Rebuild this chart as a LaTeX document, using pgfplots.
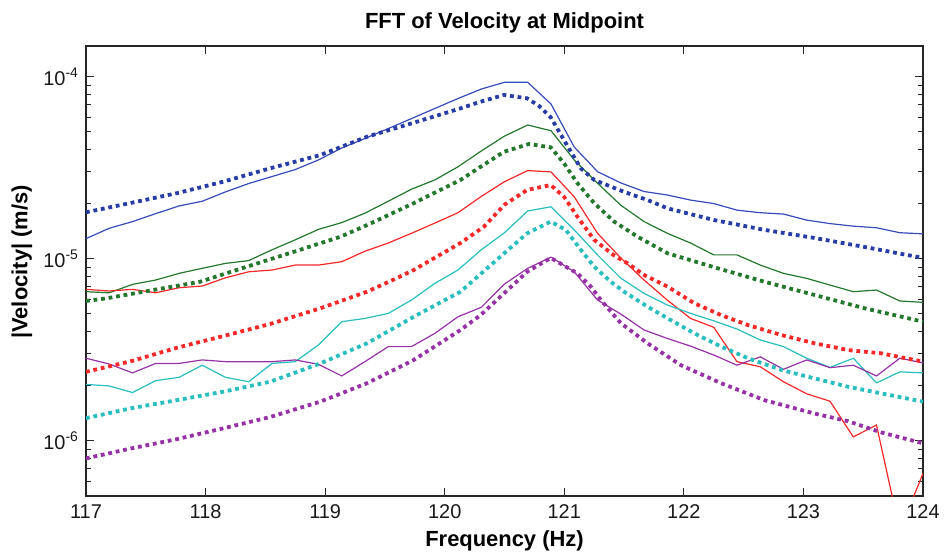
\documentclass[border=0pt]{standalone}
\usepackage{fontspec}
\setmainfont{Liberation Sans}
\usepackage{pgfplots}
\usepackage{pgfplotstable}
\pgfplotsset{compat=1.18}
\definecolor{cblue}{RGB}{55,75,185}
\definecolor{cblued}{RGB}{40,60,165}
\definecolor{cgreen}{RGB}{35,120,45}
\definecolor{cred}{RGB}{245,40,40}
\definecolor{ccyan}{RGB}{40,190,190}
\definecolor{cpurple}{RGB}{150,50,165}
\tikzset{dotline/.style={line width=1.9bp, dash pattern=on 1.9bp off 1.9bp}}

\pgfplotstableread{
f blue green red cyan purple
117.000 1.29e-5 6.59e-6 6.79e-6 2.04e-6 2.84e-6
117.194 1.47e-5 6.50e-6 6.65e-6 2.00e-6 2.64e-6
117.389 1.60e-5 7.23e-6 6.79e-6 1.84e-6 2.36e-6
117.583 1.77e-5 7.64e-6 6.50e-6 2.14e-6 2.66e-6
117.778 1.95e-5 8.31e-6 6.93e-6 2.23e-6 2.66e-6
117.972 2.07e-5 8.86e-6 7.08e-6 2.60e-6 2.78e-6
118.167 2.33e-5 9.43e-6 7.86e-6 2.23e-6 2.72e-6
118.361 2.59e-5 9.77e-6 8.48e-6 2.11e-6 2.72e-6
118.556 2.83e-5 1.12e-5 8.67e-6 2.66e-6 2.72e-6
118.750 3.09e-5 1.27e-5 9.23e-6 2.72e-6 2.78e-6
118.944 3.49e-5 1.45e-5 9.23e-6 3.36e-6 2.63e-6
119.139 4.06e-5 1.58e-5 9.63e-6 4.51e-6 2.27e-6
119.333 4.58e-5 1.78e-5 1.10e-5 4.70e-6 2.72e-6
119.528 5.19e-5 2.07e-5 1.22e-5 5.01e-6 3.29e-6
119.722 5.89e-5 2.41e-5 1.38e-5 5.93e-6 3.29e-6
119.917 6.69e-5 2.71e-5 1.57e-5 7.32e-6 3.89e-6
120.111 7.59e-5 3.20e-5 1.79e-5 8.67e-6 4.80e-6
120.306 8.56e-5 3.91e-5 2.20e-5 1.12e-5 5.41e-6
120.500 9.32e-5 4.72e-5 2.65e-5 1.39e-5 7.26e-6
120.694 9.32e-5 5.43e-5 3.05e-5 1.83e-5 8.86e-6
120.889 7.08e-5 5.05e-5 3.00e-5 1.93e-5 1.02e-5
121.083 4.11e-5 3.49e-5 2.19e-5 1.44e-5 8.48e-6
121.278 3.01e-5 2.60e-5 1.38e-5 1.05e-5 5.93e-6
121.472 2.61e-5 1.97e-5 1.01e-5 7.83e-6 4.97e-6
121.667 2.34e-5 1.60e-5 7.64e-6 6.45e-6 4.06e-6
121.861 2.24e-5 1.38e-5 5.93e-6 5.57e-6 3.65e-6
122.056 2.10e-5 1.22e-5 4.70e-6 5.01e-6 3.31e-6
122.250 2.01e-5 1.05e-5 4.20e-6 4.56e-6 2.96e-6
122.444 1.85e-5 1.05e-5 2.72e-6 4.11e-6 2.60e-6
122.639 1.79e-5 9.23e-6 2.55e-6 3.58e-6 2.89e-6
122.833 1.76e-5 8.31e-6 2.11e-6 3.29e-6 2.47e-6
123.028 1.63e-5 7.80e-6 1.81e-6 2.84e-6 2.78e-6
123.222 1.56e-5 7.17e-6 1.65e-6 2.53e-6 2.52e-6
123.417 1.51e-5 6.59e-6 1.05e-6 2.84e-6 2.60e-6
123.611 1.48e-5 6.73e-6 1.22e-6 2.08e-6 2.27e-6
123.806 1.39e-5 5.86e-6 3.2e-7 2.39e-6 2.84e-6
124.000 1.37e-5 5.76e-6 6.62e-7 2.36e-6 2.68e-6
}\solid

\pgfplotstableread{
f v
117.000 1.80e-5
117.366 2.02e-5
117.758 2.29e-5
118.148 2.65e-5
118.540 3.14e-5
118.959 3.71e-5
119.350 4.68e-5
119.741 5.59e-5
120.132 6.70e-5
120.300 7.29e-5
120.495 7.94e-5
120.690 7.61e-5
120.790 6.90e-5
120.887 5.98e-5
121.013 4.31e-5
121.138 3.14e-5
121.250 2.71e-5
121.500 2.33e-5
121.697 2.10e-5
121.865 1.89e-5
122.256 1.63e-5
122.675 1.44e-5
123.094 1.30e-5
123.513 1.16e-5
124.000 1.01e-5
}\bluedot

\pgfplotstableread{
f v
117.000 5.86e-6
117.171 6.06e-6
117.562 6.73e-6
117.953 7.47e-6
118.345 9.04e-6
118.735 1.09e-5
119.127 1.32e-5
119.350 1.53e-5
119.741 2.02e-5
120.132 2.71e-5
120.300 3.20e-5
120.495 3.87e-5
120.705 4.27e-5
120.887 4.09e-5
120.998 3.34e-5
121.110 2.60e-5
121.250 2.02e-5
121.417 1.60e-5
121.614 1.32e-5
121.865 1.07e-5
122.284 8.86e-6
122.675 7.47e-6
123.094 6.32e-6
123.513 5.34e-6
124.000 4.51e-6
}\greendot

\pgfplotstableread{
f v
117.000 2.39e-6
117.380 2.74e-6
117.758 3.24e-6
118.148 3.76e-6
118.540 4.38e-6
118.959 5.34e-6
119.350 6.59e-6
119.546 7.54e-6
119.741 8.67e-6
119.937 1.03e-5
120.132 1.22e-5
120.328 1.50e-5
120.500 1.98e-5
120.690 2.39e-5
120.887 2.54e-5
120.998 2.19e-5
121.110 1.70e-5
121.250 1.27e-5
121.410 1.05e-5
121.530 9.43e-6
121.670 8.13e-6
121.865 7.02e-6
122.088 5.69e-6
122.312 4.90e-6
122.536 4.32e-6
122.815 3.81e-6
123.094 3.43e-6
123.374 3.15e-6
123.653 3.02e-6
124.000 2.72e-6
}\reddot

\pgfplotstableread{
f v
117.000 1.33e-6
117.380 1.51e-6
117.758 1.67e-6
118.148 1.86e-6
118.540 2.11e-6
118.959 2.66e-6
119.350 3.43e-6
119.741 4.80e-6
120.132 6.59e-6
120.300 8.24e-6
120.551 1.15e-5
120.690 1.38e-5
120.887 1.60e-5
121.013 1.44e-5
121.138 1.12e-5
121.250 9.04e-6
121.390 7.47e-6
121.500 6.59e-6
121.697 5.45e-6
121.865 4.70e-6
122.088 3.89e-6
122.312 3.29e-6
122.536 2.84e-6
122.815 2.45e-6
123.094 2.20e-6
123.374 1.98e-6
123.653 1.82e-6
124.000 1.64e-6
}\cyandot

\pgfplotstableread{
f v
117.000 8.00e-7
117.380 9.08e-7
117.758 1.02e-6
118.148 1.17e-6
118.540 1.35e-6
118.959 1.64e-6
119.350 2.07e-6
119.741 2.78e-6
120.132 4.06e-6
120.300 4.90e-6
120.495 6.45e-6
120.690 8.48e-6
120.887 1.01e-5
121.110 8.31e-6
121.222 7.02e-6
121.306 5.93e-6
121.474 4.42e-6
121.697 3.43e-6
121.976 2.60e-6
122.312 2.07e-6
122.675 1.67e-6
123.094 1.41e-6
123.374 1.28e-6
123.653 1.11e-6
124.000 9.68e-7
}\purpledot

\begin{document}
\begin{tikzpicture}
\begin{axis}[
  scale only axis, width=418.5bp, height=225bp,
  xmin=117, xmax=124, ymode=log, ymin=4.97e-7, ymax=1.475e-4,
  xtick={117,118,119,120,121,122,123,124},
  xticklabels={117,118,119,120,121,122,123,124},
  ytick={1e-6,1e-5,1e-4},
  yticklabels={10\textsuperscript{-6},10\textsuperscript{-5},10\textsuperscript{-4}},
  minor ytick={6e-7,7e-7,8e-7,9e-7,2e-6,3e-6,4e-6,5e-6,6e-6,7e-6,8e-6,9e-6,2e-5,3e-5,4e-5,5e-5,6e-5,7e-5,8e-5,9e-5},
  tick align=inside, major tick length=4bp, minor tick length=2.3bp,
  axis line style={black!85, line width=0.6bp},
  every tick/.style={black!85, line width=0.5bp},
  tick label style={font=\fontsize{10}{12}\selectfont, black!90},
  xticklabel style={yshift=-1bp},
  every axis title shift=0pt,
  title={FFT of Velocity at Midpoint},
  title style={font=\bfseries\fontsize{11}{13}\selectfont, at={(axis description cs:0.5,1)}, anchor=base, yshift=8.85bp},
  xlabel={Frequency (Hz)},
  xlabel style={font=\bfseries\fontsize{11}{13}\selectfont, at={(axis description cs:0.5,0)}, anchor=base, yshift=-25.3bp},
  ylabel={|Velocity| (m/s)},
  ylabel style={font=\bfseries\fontsize{11}{13}\selectfont, at={(axis description cs:-0.0765,0.52)}, anchor=center},
  clip=true,
]
\addplot[cblue, line width=0.6bp] table[x=f,y=blue]{\solid};
\addplot[cgreen, line width=0.6bp] table[x=f,y=green]{\solid};
\addplot[cred, line width=0.6bp] table[x=f,y=red]{\solid};
\addplot[ccyan, line width=0.6bp] table[x=f,y=cyan]{\solid};
\addplot[cpurple, line width=0.6bp] table[x=f,y=purple]{\solid};
\addplot[cblued, dotline] table[x=f,y=v]{\bluedot};
\addplot[cgreen, dotline] table[x=f,y=v]{\greendot};
\addplot[cred, dotline] table[x=f,y=v]{\reddot};
\addplot[ccyan, dotline] table[x=f,y=v]{\cyandot};
\addplot[cpurple, dotline] table[x=f,y=v]{\purpledot};
\end{axis}
\pgfresetboundingbox
\path[use as bounding box] (current axis.south west) ++(-43bp,-29bp) rectangle ++(472.5bp,277bp);
\end{tikzpicture}
\end{document}
